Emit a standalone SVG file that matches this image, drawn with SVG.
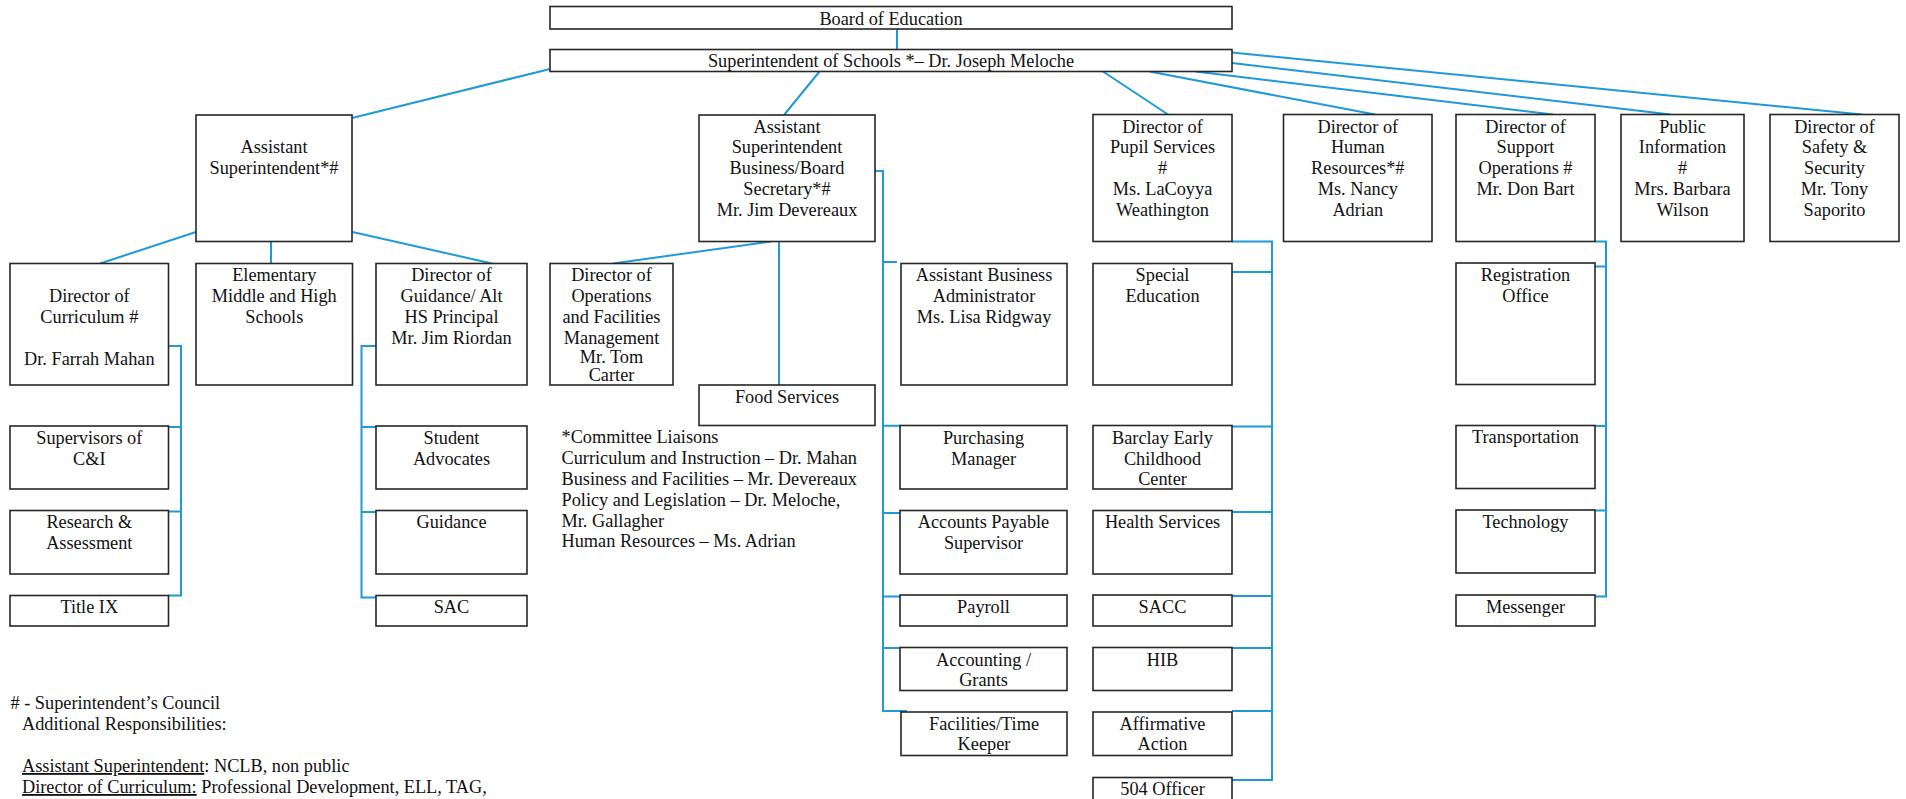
<svg xmlns="http://www.w3.org/2000/svg" width="1906" height="799" viewBox="0 0 1906 799">
<style>
.bg{fill:#ffffff}
.box{fill:#ffffff;stroke:#262626;stroke-width:1.6}
.t{font-family:"Liberation Serif","Times New Roman",serif;font-size:18.3px;fill:#111111;text-anchor:middle}
.l{font-family:"Liberation Serif","Times New Roman",serif;font-size:18.3px;fill:#111111}
.c{fill:none;stroke:#1e9ad8;stroke-width:2}
</style>
<rect class="bg" x="0" y="0" width="1906" height="799"/>
<g id="connectors">
<path class="c" d="M897,29 V49.5"/>
<path class="c" d="M550,69 L352,118"/>
<path class="c" d="M819.5,71.5 L784,115"/>
<path class="c" d="M1103,71.5 L1168,114.5"/>
<path class="c" d="M1149.5,71.5 L1375,114.5"/>
<path class="c" d="M1195.5,71.5 L1553,114.5"/>
<path class="c" d="M1232,63 L1670.5,114.5"/>
<path class="c" d="M1232,52.5 L1862,114.5"/>
<path class="c" d="M196,232 L100,263.5"/>
<path class="c" d="M271,241.5 V263.5"/>
<path class="c" d="M352.5,232 L492,263.5"/>
<path class="c" d="M771,241.5 L613,263.5"/>
<path class="c" d="M779,241.5 V385"/>
<path class="c" d="M168.5,346 H181 V595.5 H168.5 M168.5,427 H181 M168.5,511.5 H181"/>
<path class="c" d="M379,346 H361.5 V597.5 H376 M361.5,427 H376 M361.5,512 H376"/>
<path class="c" d="M875,171 H883 V711 H907 M883,262 H897 M883,425.7 H900 M883,513 H900 M883,596.5 H900 M883,648 H900"/>
<path class="c" d="M1232,241.5 H1272 V780 H1232 M1232,272 H1272 M1232,426.5 H1272 M1232,512 H1272 M1232,596 H1272 M1232,648 H1272 M1232,711 H1272"/>
<path class="c" d="M1595,241.5 H1606 V596.5 H1590 M1595,266.5 H1606 M1595,426 H1606 M1595,510.5 H1606"/>
</g>
<g id="board"><rect class="box" x="550" y="6.5" width="682" height="22.5"/><text class="t" x="891" y="24.5">Board of Education</text></g>
<g id="superintendent"><rect class="box" x="550" y="49.5" width="682" height="22"/><text class="t" x="891" y="67">Superintendent of Schools *– Dr. Joseph Meloche</text></g>
<g id="asst-sup"><rect class="box" x="196" y="115" width="156" height="126.5"/><text class="t"><tspan x="274" y="152.5">Assistant</tspan><tspan x="274" y="173.5">Superintendent*#</tspan></text></g>
<g id="asst-sup-business"><rect class="box" x="699" y="115" width="176" height="126.5"/><text class="t"><tspan x="787" y="132.5">Assistant</tspan><tspan x="787" y="153.3">Superintendent</tspan><tspan x="787" y="174.1">Business/Board</tspan><tspan x="787" y="194.9">Secretary*#</tspan><tspan x="787" y="215.7">Mr. Jim Devereaux</tspan></text></g>
<g id="pupil-services"><rect class="box" x="1093" y="114.5" width="139" height="127"/><text class="t"><tspan x="1162.5" y="132.5">Director of</tspan><tspan x="1162.5" y="153.3">Pupil Services</tspan><tspan x="1162.5" y="174.1">#</tspan><tspan x="1162.5" y="194.9">Ms. LaCoyya</tspan><tspan x="1162.5" y="215.7">Weathington</tspan></text></g>
<g id="human-resources"><rect class="box" x="1283.5" y="114.5" width="148.5" height="127"/><text class="t"><tspan x="1357.8" y="132.5">Director of</tspan><tspan x="1357.8" y="153.3">Human</tspan><tspan x="1357.8" y="174.1">Resources*#</tspan><tspan x="1357.8" y="194.9">Ms. Nancy</tspan><tspan x="1357.8" y="215.7">Adrian</tspan></text></g>
<g id="support-operations"><rect class="box" x="1456" y="114.5" width="139" height="127"/><text class="t"><tspan x="1525.5" y="132.5">Director of</tspan><tspan x="1525.5" y="153.3">Support</tspan><tspan x="1525.5" y="174.1">Operations #</tspan><tspan x="1525.5" y="194.9">Mr. Don Bart</tspan></text></g>
<g id="public-information"><rect class="box" x="1621" y="114.5" width="123" height="127"/><text class="t"><tspan x="1682.5" y="132.5">Public</tspan><tspan x="1682.5" y="153.3">Information</tspan><tspan x="1682.5" y="174.1">#</tspan><tspan x="1682.5" y="194.9">Mrs. Barbara</tspan><tspan x="1682.5" y="215.7">Wilson</tspan></text></g>
<g id="safety-security"><rect class="box" x="1770" y="114.5" width="129" height="127"/><text class="t"><tspan x="1834.5" y="132.5">Director of</tspan><tspan x="1834.5" y="153.3">Safety &amp;</tspan><tspan x="1834.5" y="174.1">Security</tspan><tspan x="1834.5" y="194.9">Mr. Tony</tspan><tspan x="1834.5" y="215.7">Saporito</tspan></text></g>
<g id="dir-curriculum"><rect class="box" x="10" y="263.5" width="158.5" height="121.5"/><text class="t"><tspan x="89.3" y="302">Director of</tspan><tspan x="89.3" y="323">Curriculum #</tspan><tspan x="89.3" y="364.5">Dr. Farrah Mahan</tspan></text></g>
<g id="elementary"><rect class="box" x="196" y="263.5" width="156.5" height="121.5"/><text class="t"><tspan x="274.3" y="281">Elementary</tspan><tspan x="274.3" y="302">Middle and High</tspan><tspan x="274.3" y="323">Schools</tspan></text></g>
<g id="dir-guidance"><rect class="box" x="376" y="263.5" width="151" height="121.5"/><text class="t"><tspan x="451.5" y="281">Director of</tspan><tspan x="451.5" y="302">Guidance/ Alt</tspan><tspan x="451.5" y="323">HS Principal</tspan><tspan x="451.5" y="344">Mr. Jim Riordan</tspan></text></g>
<g id="dir-operations"><rect class="box" x="550" y="263.5" width="123" height="121.5"/><text class="t"><tspan x="611.5" y="281">Director of</tspan><tspan x="611.5" y="302">Operations</tspan><tspan x="611.5" y="322.5">and Facilities</tspan><tspan x="611.5" y="343.5">Management</tspan><tspan x="611.5" y="362.5">Mr. Tom</tspan><tspan x="611.5" y="381">Carter</tspan></text></g>
<g id="food-services"><rect class="box" x="699" y="385" width="176" height="40.5"/><text class="t" x="787" y="402.5">Food Services</text></g>
<g id="asst-business-admin"><rect class="box" x="901" y="263.5" width="166" height="121.5"/><text class="t"><tspan x="984" y="281">Assistant Business</tspan><tspan x="984" y="302">Administrator</tspan><tspan x="984" y="322.5">Ms. Lisa Ridgway</tspan></text></g>
<g id="special-education"><rect class="box" x="1093" y="263.5" width="139" height="121.5"/><text class="t"><tspan x="1162.5" y="281">Special</tspan><tspan x="1162.5" y="302">Education</tspan></text></g>
<g id="registration-office"><rect class="box" x="1456" y="263" width="139" height="121.5"/><text class="t"><tspan x="1525.5" y="281">Registration</tspan><tspan x="1525.5" y="302">Office</tspan></text></g>
<g id="supervisors"><rect class="box" x="10" y="426" width="158.5" height="63"/><text class="t"><tspan x="89.3" y="443.5">Supervisors of</tspan><tspan x="89.3" y="464.5">C&amp;I</tspan></text></g>
<g id="research"><rect class="box" x="10" y="510.5" width="158.5" height="63.5"/><text class="t"><tspan x="89.3" y="528">Research &amp;</tspan><tspan x="89.3" y="549">Assessment</tspan></text></g>
<g id="title-ix"><rect class="box" x="10" y="595.5" width="158.5" height="30.5"/><text class="t" x="89.3" y="612.5">Title IX</text></g>
<g id="student-advocates"><rect class="box" x="376" y="426" width="151" height="63"/><text class="t"><tspan x="451.5" y="443.5">Student</tspan><tspan x="451.5" y="464.5">Advocates</tspan></text></g>
<g id="guidance"><rect class="box" x="376" y="510.5" width="151" height="63.5"/><text class="t" x="451.5" y="528">Guidance</text></g>
<g id="sac"><rect class="box" x="376" y="595.5" width="151" height="30.5"/><text class="t" x="451.5" y="612.5">SAC</text></g>
<g id="purchasing"><rect class="box" x="900" y="425.5" width="167" height="63.5"/><text class="t"><tspan x="983.5" y="443.5">Purchasing</tspan><tspan x="983.5" y="464.5">Manager</tspan></text></g>
<g id="accounts-payable"><rect class="box" x="900" y="510.5" width="167" height="63.5"/><text class="t"><tspan x="983.5" y="528">Accounts Payable</tspan><tspan x="983.5" y="549">Supervisor</tspan></text></g>
<g id="payroll"><rect class="box" x="900" y="595" width="167" height="31"/><text class="t" x="983.5" y="612.5">Payroll</text></g>
<g id="accounting-grants"><rect class="box" x="900" y="647.5" width="167" height="43"/><text class="t"><tspan x="983.5" y="665.5">Accounting /</tspan><tspan x="983.5" y="685.5">Grants</tspan></text></g>
<g id="facilities-timekeeper"><rect class="box" x="901" y="712" width="166" height="43.5"/><text class="t"><tspan x="984" y="729.5">Facilities/Time</tspan><tspan x="984" y="750">Keeper</tspan></text></g>
<g id="barclay"><rect class="box" x="1093" y="425.5" width="139" height="63.5"/><text class="t"><tspan x="1162.5" y="443.5">Barclay Early</tspan><tspan x="1162.5" y="464.5">Childhood</tspan><tspan x="1162.5" y="485">Center</tspan></text></g>
<g id="health-services"><rect class="box" x="1093" y="510.5" width="139" height="63.5"/><text class="t" x="1162.5" y="528">Health Services</text></g>
<g id="sacc"><rect class="box" x="1093" y="595" width="139" height="31"/><text class="t" x="1162.5" y="612.5">SACC</text></g>
<g id="hib"><rect class="box" x="1093" y="647.5" width="139" height="43"/><text class="t" x="1162.5" y="665.5">HIB</text></g>
<g id="affirmative-action"><rect class="box" x="1093" y="712" width="139" height="43.5"/><text class="t"><tspan x="1162.5" y="729.5">Affirmative</tspan><tspan x="1162.5" y="750">Action</tspan></text></g>
<g id="officer-504"><rect class="box" x="1093" y="777.5" width="139" height="35"/><text class="t" x="1162.5" y="794.5">504 Officer</text></g>
<g id="transportation"><rect class="box" x="1456" y="425.5" width="139" height="63"/><text class="t" x="1525.5" y="443">Transportation</text></g>
<g id="technology"><rect class="box" x="1456" y="510" width="139" height="63"/><text class="t" x="1525.5" y="528">Technology</text></g>
<g id="messenger"><rect class="box" x="1456" y="595" width="139" height="31"/><text class="t" x="1525.5" y="612.5">Messenger</text></g>
<g id="committee-liaisons"><text class="l"><tspan x="561.5" y="443">*Committee Liaisons</tspan><tspan x="561.5" y="464">Curriculum and Instruction – Dr. Mahan</tspan><tspan x="561.5" y="485">Business and Facilities – Mr. Devereaux</tspan><tspan x="561.5" y="505.5">Policy and Legislation – Dr. Meloche,</tspan><tspan x="561.5" y="526.5">Mr. Gallagher</tspan><tspan x="561.5" y="547">Human Resources – Ms. Adrian</tspan></text></g>
<g id="legend"><text class="l"><tspan x="10.5" y="709"># - Superintendent’s Council</tspan><tspan x="22" y="730">Additional Responsibilities:</tspan></text><text class="l" x="22" y="772"><tspan text-decoration="underline">Assistant Superintendent</tspan>: NCLB, non public</text><text class="l" x="22" y="793"><tspan text-decoration="underline">Director of Curriculum:</tspan> Professional Development, ELL, TAG,</text></g>
</svg>
